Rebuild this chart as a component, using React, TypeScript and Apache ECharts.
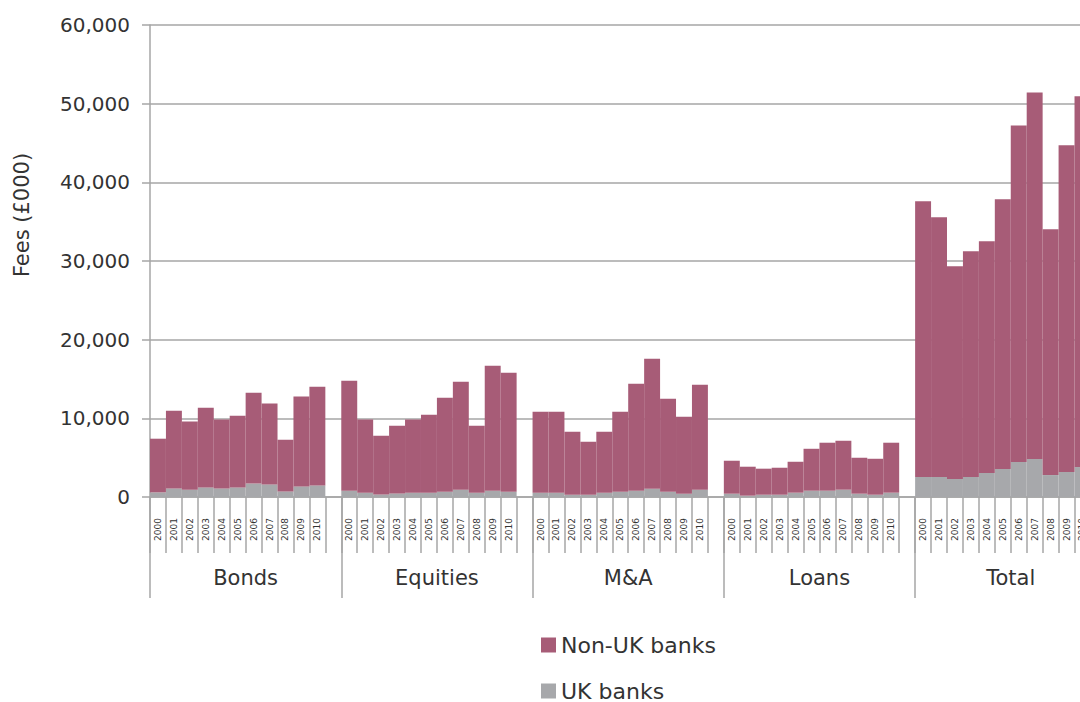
import React, { useEffect, useRef } from 'react';
import * as echarts from 'echarts';

const years = ['2000', '2001', '2002', '2003', '2004', '2005', '2006', '2007', '2008', '2009', '2010'];
const groupNames = ['Bonds', 'Equities', 'M&A', 'Loans', 'Total'];

// UK banks fees (£000)
const ukBonds = [590, 1090, 930, 1220, 1090, 1220, 1730, 1600, 710, 1350, 1470];
const ukEquities = [800, 550, 330, 460, 550, 550, 670, 930, 550, 800, 670];
const ukMA = [550, 550, 290, 290, 550, 670, 800, 1050, 670, 420, 930];
const ukLoans = [420, 170, 290, 290, 550, 800, 800, 930, 420, 290, 550];
const ukTotal = [2540, 2540, 2290, 2540, 3050, 3560, 4450, 4830, 2790, 3180, 3810];

// Non-UK banks fees (£000)
const nonUkBonds = [6820, 9880, 8680, 10130, 8770, 9110, 11520, 10300, 6570, 11430, 12550];
const nonUkEquities = [13970, 9310, 7460, 8600, 9310, 9900, 11940, 13710, 8510, 15880, 15120];
const nonUkMA = [10280, 10280, 8000, 6730, 7740, 10160, 13590, 16510, 11810, 9780, 13330];
const nonUkLoans = [4190, 3680, 3310, 3430, 3930, 5330, 6100, 6220, 4570, 4570, 6350];
const nonUkTotal = [35050, 33020, 27040, 28700, 29460, 34290, 42790, 46600, 31250, 41520, 47120];

const yTicks = [0, 10000, 20000, 30000, 40000, 50000, 60000];

const FONT = 'DejaVu Sans';
const GREY_LINE = '#a6a6a6';
const TEXT = '#333333';

export default function App() {
  const ref = useRef<HTMLDivElement>(null);

  useEffect(() => {
    const chart = echarts.init(ref.current!, null, { renderer: 'svg' });

    const ukGroups = [ukBonds, ukEquities, ukMA, ukLoans, ukTotal];
    const nonUkGroups = [nonUkBonds, nonUkEquities, nonUkMA, nonUkLoans, nonUkTotal];

    const categories: string[] = [];
    const ukData: (number | null)[] = [];
    const nonUkData: (number | null)[] = [];
    groupNames.forEach((_, gi) => {
      years.forEach((y, i) => {
        categories.push(y);
        ukData.push(ukGroups[gi][i]);
        nonUkData.push(nonUkGroups[gi][i]);
      });
      categories.push('');
      ukData.push(null);
      nonUkData.push(null);
    });

    const legendCommon = {
      orient: 'horizontal',
      left: 536,
      itemWidth: 15,
      itemHeight: 15,
      icon: 'rect',
      textStyle: { fontSize: 22, color: TEXT, fontFamily: FONT },
    };

    const option: any = {
      animation: false,
      backgroundColor: '#ffffff',
      textStyle: { fontFamily: FONT },
      grid: { left: 150, top: 25, bottom: 205, right: 3.6, containLabel: false },
      legend: [
        { ...legendCommon, data: ['Non-UK banks'], top: 629 },
        { ...legendCommon, data: ['UK banks'], top: 675 },
      ],
      xAxis: [
        {
          type: 'category',
          position: 'bottom',
          data: categories,
          boundaryGap: true,
          axisLine: { show: true, lineStyle: { color: GREY_LINE, width: 1.5 } },
          axisTick: { show: true, interval: 0, length: 56, lineStyle: { color: GREY_LINE, width: 1.5 } },
          axisLabel: {
            interval: 0,
            rotate: 90,
            fontSize: 9,
            margin: 21,
            color: TEXT,
            fontFamily: FONT,
          },
          splitLine: { show: false },
        },
        {
          type: 'category',
          position: 'bottom',
          data: groupNames,
          boundaryGap: true,
          axisLine: { show: false },
          axisTick: { show: true, interval: 0, length: 101, lineStyle: { color: GREY_LINE, width: 1.5 } },
          axisLabel: { interval: 0, fontSize: 21, margin: 70, color: TEXT, fontFamily: FONT },
          splitLine: { show: false },
        },
      ],
      yAxis: {
        type: 'value',
        min: yTicks[0],
        max: yTicks[yTicks.length - 1],
        interval: 10000,
        axisLine: { show: true, lineStyle: { color: GREY_LINE, width: 1.5 } },
        axisTick: { show: true, length: 8, lineStyle: { color: GREY_LINE, width: 1.5 } },
        axisLabel: {
          fontSize: 20,
          margin: 20,
          color: TEXT,
          fontFamily: FONT,
          formatter: (v: number) => v.toLocaleString('en-GB'),
        },
        splitLine: { show: true, lineStyle: { color: GREY_LINE, width: 1.5 } },
      },
      graphic: [
        {
          type: 'text',
          x: 22,
          y: 215,
          rotation: Math.PI / 2,
          style: {
            text: 'Fees (£000)',
            fontSize: 21,
            fontFamily: FONT,
            fill: TEXT,
            align: 'center',
            verticalAlign: 'middle',
          },
        },
      ],
      series: [
        {
          name: 'UK banks',
          type: 'bar',
          stack: 'fees',
          xAxisIndex: 0,
          data: ukData,
          barWidth: '100%',
          barCategoryGap: 0,
          itemStyle: { color: '#a7a8ab' },
        },
        {
          name: 'Non-UK banks',
          type: 'bar',
          stack: 'fees',
          xAxisIndex: 0,
          data: nonUkData,
          barWidth: '100%',
          barCategoryGap: 0,
          itemStyle: { color: '#a75c77' },
        },
      ],
    };

    chart.setOption(option);
    return () => chart.dispose();
  }, []);

  return (
    <div
      style={{ position: 'fixed', left: 0, top: 0, width: 1080, height: 702, overflow: 'hidden', background: '#fff' }}
    >
      <div ref={ref} style={{ width: 1110, height: 702 }} />
    </div>
  );
}
